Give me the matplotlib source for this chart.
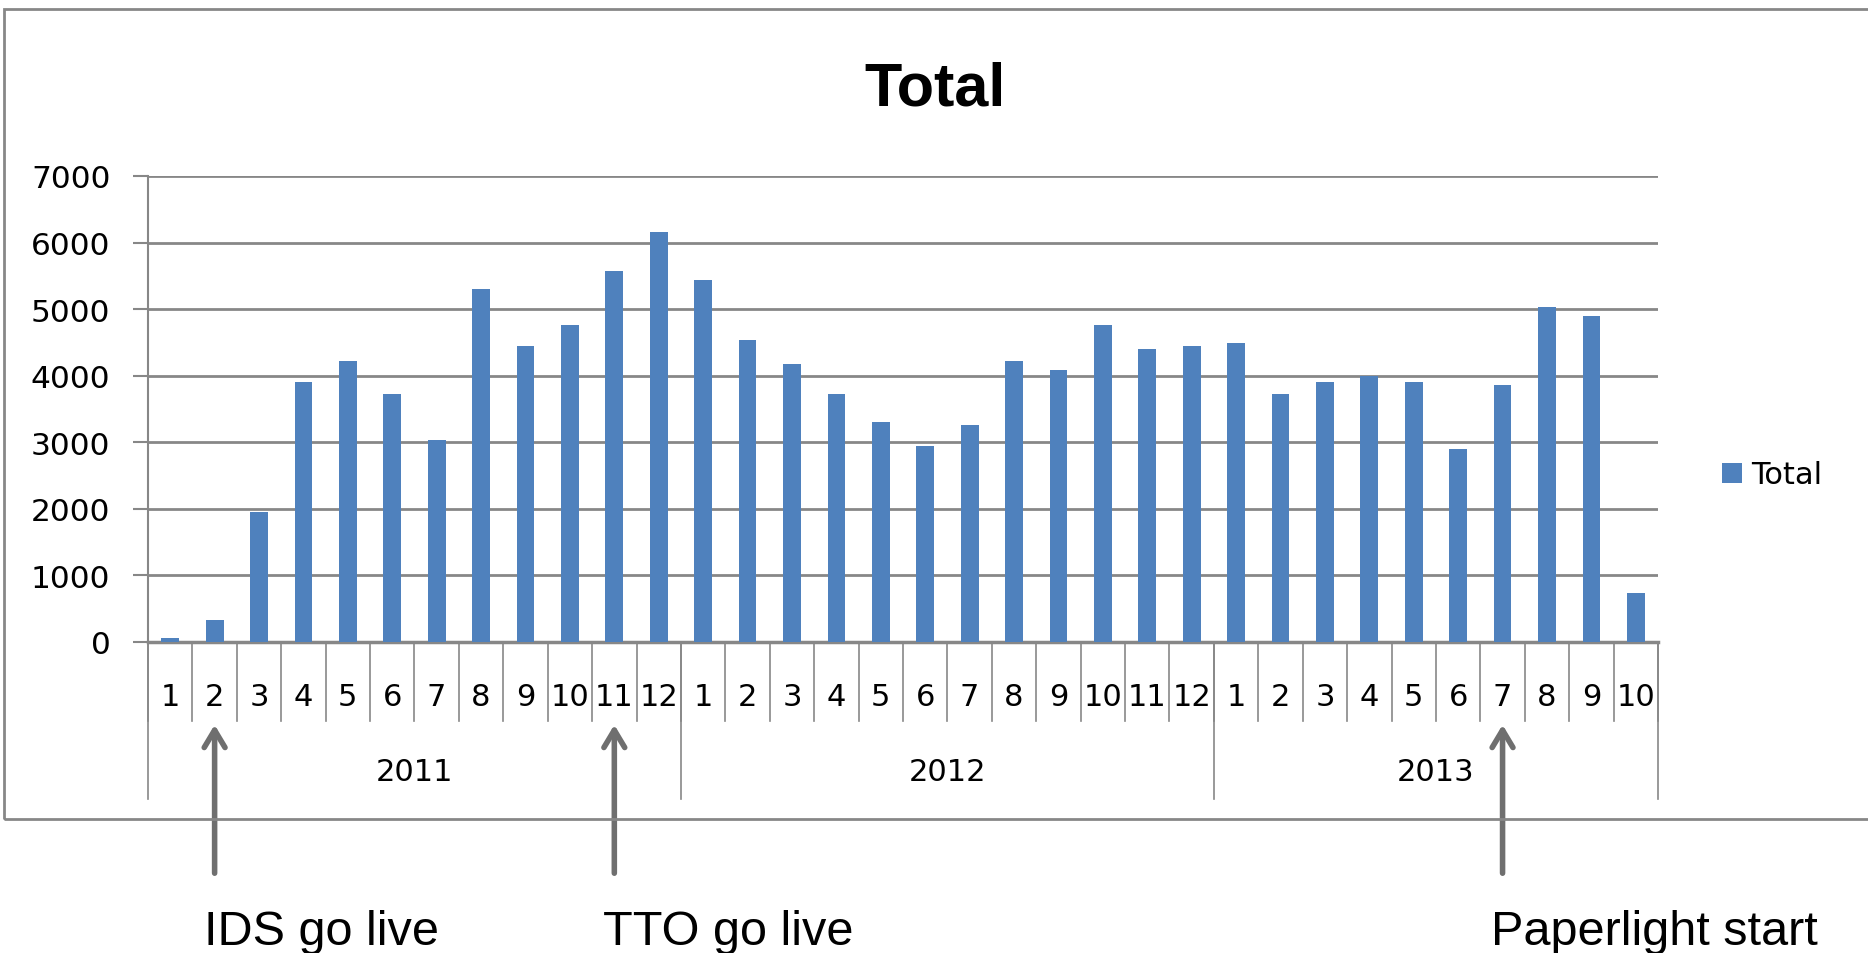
# bar chart of monthly totals with go-live markers
import matplotlib
matplotlib.use("Agg")
import matplotlib.pyplot as plt
from matplotlib.patches import Rectangle

# data
years = ["2011", "2012", "2013"]
months_2011 = ["1", "2", "3", "4", "5", "6", "7", "8", "9", "10", "11", "12"]
months_2012 = ["1", "2", "3", "4", "5", "6", "7", "8", "9", "10", "11", "12"]
months_2013 = ["1", "2", "3", "4", "5", "6", "7", "8", "9", "10"]
total_2011 = [60, 330, 1960, 3900, 4220, 3730, 3030, 5300, 4450, 4760, 5580, 6160]
total_2012 = [5440, 4540, 4180, 3730, 3300, 2950, 3260, 4220, 4090, 4760, 4400, 4450]
total_2013 = [4490, 3730, 3900, 4000, 3900, 2900, 3860, 5030, 4900, 730]
y_ticks = [0, 1000, 2000, 3000, 4000, 5000, 6000, 7000]

# events: (year, month, label)
events = [("2011", "2", "IDS go live"), ("2011", "11", "TTO go live"), ("2013", "7", "Paperlight start")]

month_groups = [months_2011, months_2012, months_2013]
labels = months_2011 + months_2012 + months_2013
totals = total_2011 + total_2012 + total_2013
xs = list(range(len(totals)))

grey = "#878787"
blue = "#4F81BD"
W, H = 1868, 954

fig = plt.figure(figsize=(W / 100, H / 100), dpi=100)
fig.patch.set_facecolor("white")
ax = fig.add_axes([148 / W, 1 - 643 / H, (1658 - 148) / W, (643 - 177) / H])

# outer chart frame (runs off the right side)
fig.add_artist(Rectangle((4 / W, 1 - 820 / H), 1.2, (820 - 10) / H, transform=fig.transFigure,
                         fill=False, edgecolor=grey, lw=2))

ax.bar(xs, totals, width=0.4, color=blue, label="Total", zorder=3)

ax.set_xlim(-0.5, len(totals) - 0.5)
ax.set_ylim(0, 7000)
ax.set_yticks(y_ticks)
ax.set_yticklabels([str(v) for v in y_ticks], family="DejaVu Sans", fontsize=22.5)
ax.tick_params(axis="y", length=11, width=1.5, color=grey, pad=16)
ax.set_xticks([])
ax.grid(axis="y", color=grey, lw=2, zorder=0)
for s in ["top", "right"]:
    ax.spines[s].set_visible(False)
ax.spines["left"].set_color(grey)
ax.spines["left"].set_linewidth(1.5)
ax.spines["bottom"].set_color(grey)
ax.spines["bottom"].set_linewidth(2.5)

tr = ax.get_xaxis_transform()
h = 466.0
# month separators and labels
for i in range(len(totals) + 1):
    ax.plot([i - 0.5, i - 0.5], [0, -79 / h], transform=tr, color=grey, lw=1.2, clip_on=False)
for i, lab in enumerate(labels):
    ax.text(i, -54 / h, lab, transform=tr, ha="center", va="center", fontsize=22, family="DejaVu Sans")

# year separators and labels
start = 0
for yr, grp in zip(years, month_groups):
    ax.plot([start - 0.5, start - 0.5], [0, -157 / h], transform=tr, color=grey, lw=1.2, clip_on=False)
    ax.text(start + (len(grp) - 1) / 2, -130 / h, yr, transform=tr, ha="center", va="center",
            fontsize=22, family="DejaVu Sans")
    start += len(grp)
ax.plot([start - 0.5, start - 0.5], [0, -157 / h], transform=tr, color=grey, lw=1.2, clip_on=False)

# event arrows under the axis
for yr, mo, txt in events:
    offset = sum(len(g) for g in month_groups[:years.index(yr)])
    xi = offset + month_groups[years.index(yr)].index(mo)
    ax.annotate("", xy=(xi, -80 / h), xycoords=tr, xytext=(xi, -234 / h), textcoords=tr,
                arrowprops=dict(arrowstyle="->,head_length=0.5,head_width=0.3", color="#6f6f6f", lw=4,
                                mutation_scale=25),
                annotation_clip=False)
    ax.text(xi - 0.25, -302 / h, txt, transform=tr, ha="left", va="baseline",
            fontsize=35, family="Liberation Sans")

fig.text(935 / W, 1 - 106 / H, "Total", ha="center", va="baseline", fontsize=44,
         fontweight="bold", family="Liberation Sans")

ax.legend(loc="center left", bbox_to_anchor=(1722 / W, 1 - 476 / H), bbox_transform=fig.transFigure,
          frameon=False, borderpad=0, borderaxespad=0, handlelength=0.65, handleheight=0.65,
          handletextpad=0.3, prop={"family": "DejaVu Sans", "size": 22})

fig.savefig("out.png", dpi=100, facecolor="white")
